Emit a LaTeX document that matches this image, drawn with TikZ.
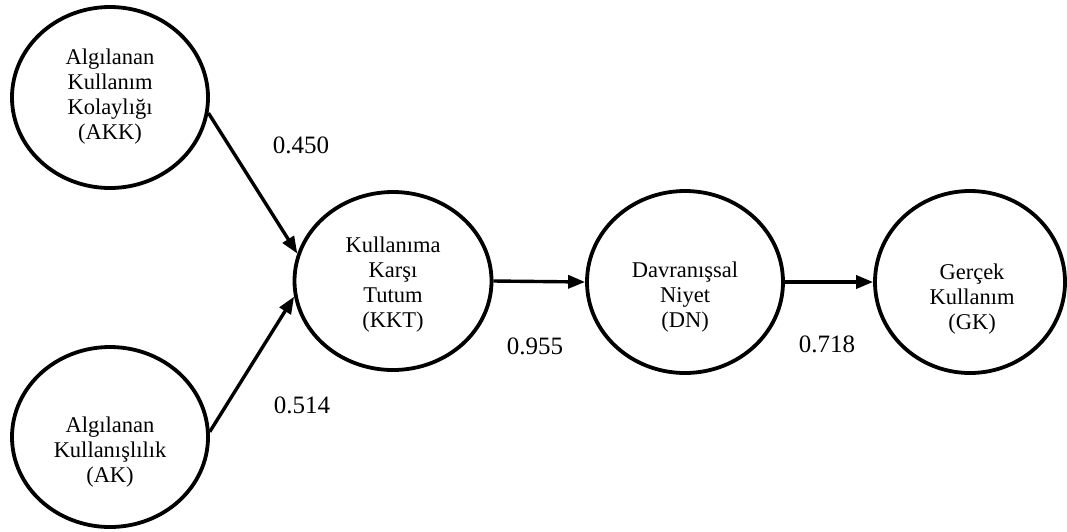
\documentclass[tikz,border=0pt]{standalone}
\usepackage{fontspec}
\setmainfont{Liberation Serif}
\usetikzlibrary{shapes.geometric,arrows.meta}
\begin{document}
\begin{tikzpicture}[x=1pt,y=-1pt,
  construct/.style={ellipse,draw,line width=3.8pt,inner sep=0pt},
  nametext/.style={align=center,inner sep=0pt,font=\fontsize{22.5}{25}\selectfont},
  coef/.style={inner sep=0pt,font=\fontsize{25}{30}\selectfont},
  path/.style={line width=3.4pt,-{Triangle[length=17pt,width=13pt]}}]
\useasboundingbox (0,0) rectangle (1067,531);

% constructs of the model
\node[construct,minimum width=196pt,minimum height=181pt] (akk) at (110,97.5) {};
\node[construct,minimum width=196pt,minimum height=180pt] (ak)  at (110,437) {};
\node[construct,minimum width=197pt,minimum height=178pt] (kkt) at (393,281) {};
\node[construct,minimum width=196pt,minimum height=182pt] (dn)  at (685,282) {};
\node[construct,minimum width=190pt,minimum height=182pt] (gk)  at (970,282) {};

% construct names
\node[nametext] (akkname) at (110,96.5) {Algılanan\\Kullanım\\Kolaylığı\\(AKK)};
\node[nametext] (akname)  at (110,452) {Algılanan\\Kullanışlılık\\(AK)};
\node[nametext] (kktname) at (393,285) {Kullanıma\\Karşı\\Tutum\\(KKT)};
\node[nametext] (dnname)  at (685,297) {Davranışsal\\Niyet\\(DN)};
\node[nametext] (gkname)  at (972,299) {Gerçek\\Kullanım\\(GK)};

% structural paths
\draw[path] (akk.-9) -- (kkt.164.7);
\draw[path] (ak.3.5) -- (kkt.-171.7);
\draw[path] (kkt.east) -- (dn.west);
\draw[path] (dn.east) -- (gk.west);

% path coefficients
\node[coef] (c1) at (301,145) {0.450};
\node[coef] (c2) at (302,405) {0.514};
\node[coef] (c3) at (535,346) {0.955};
\node[coef] (c4) at (827,344) {0.718};
\end{tikzpicture}
\end{document}
